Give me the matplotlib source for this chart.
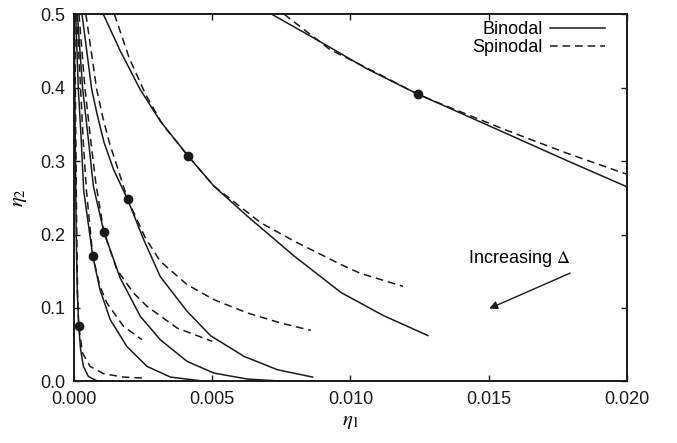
import numpy as np
import matplotlib
matplotlib.use("Agg")
import matplotlib.pyplot as plt

plt.rcParams['font.family'] = ['Liberation Sans', 'DejaVu Sans']
plt.rcParams['mathtext.fontset'] = 'stix'

# binodal (solid) and spinodal (dashed) curves
binA_x = [0.00715, 0.00877, 0.01058, 0.01244, 0.01323, 0.01564, 0.01781, 0.0200]
binA_y = [0.500, 0.4655, 0.426, 0.391, 0.378, 0.3375, 0.301, 0.265]
spinA_x = [0.0076, 0.00925, 0.01058, 0.01244, 0.01323, 0.01564, 0.01781, 0.0200]
spinA_y = [0.500, 0.452, 0.427, 0.391, 0.3785, 0.342, 0.311, 0.282]

binB_x = [0.00106, 0.00166, 0.00239, 0.00312, 0.00413, 0.00506, 0.00627, 0.00797, 0.00966, 0.0112, 0.0128]
binB_y = [0.500, 0.451, 0.3977, 0.3545, 0.3068, 0.2659, 0.225, 0.1705, 0.121, 0.0895, 0.0625]
spinB_x = [0.00146, 0.0020, 0.0026, 0.0032, 0.00413, 0.00506, 0.00676, 0.00797, 0.00966, 0.01034, 0.0119]
spinB_y = [0.500, 0.44, 0.39, 0.35, 0.3068, 0.2659, 0.2159, 0.1909, 0.1591, 0.1474, 0.1294]

binC_x = [0.00029, 0.00064, 0.00085, 0.00109, 0.00143, 0.00194, 0.00252, 0.00312,
          0.00409, 0.00494, 0.00615, 0.00736, 0.00863]
binC_y = [0.500, 0.3977, 0.3614, 0.325, 0.2886, 0.2477, 0.1932, 0.1427,
          0.0955, 0.0623, 0.0341, 0.0159, 0.0059]
spinC_x = [0.00043, 0.00082, 0.00104, 0.00128, 0.0016, 0.00194, 0.00258, 0.00312,
           0.00409, 0.00506, 0.00627, 0.00748, 0.00857]
spinC_y = [0.500, 0.3977, 0.36, 0.325, 0.288, 0.2477, 0.1955, 0.1636,
           0.1318, 0.1114, 0.0932, 0.0795, 0.0695]

binD_x = [0.00012, 0.000315, 0.00052, 0.0007, 0.00108, 0.00167, 0.0024, 0.00312,
          0.00409, 0.00506, 0.00627, 0.00748]
binD_y = [0.500, 0.3977, 0.3295, 0.266, 0.2036, 0.1409, 0.0886, 0.0568,
          0.0273, 0.0114, 0.0032, 0.0005]
spinD_x = [0.00018, 0.0004, 0.0006, 0.00079, 0.00108, 0.00155, 0.00215, 0.00264, 0.00373, 0.0050]
spinD_y = [0.500, 0.3977, 0.33, 0.27, 0.2036, 0.1523, 0.1205, 0.1023, 0.0727, 0.0545]

binE_x = [0.00006, 0.000157, 0.00026, 0.00035, 0.00068, 0.00094, 0.00131, 0.00191,
          0.00264, 0.00349, 0.00458]
binE_y = [0.500, 0.3977, 0.33, 0.26, 0.1705, 0.125, 0.0841, 0.0477,
          0.0205, 0.0059, 0.0009]
spinE_x = [0.0001, 0.00024, 0.00033, 0.00045, 0.00068, 0.00094, 0.00119, 0.00179, 0.00246]
spinE_y = [0.500, 0.3977, 0.33, 0.26, 0.1705, 0.1295, 0.1068, 0.075, 0.0568]

binF_x = [0.00001, 0.00004, 0.00008, 0.00012, 0.00017, 0.00024, 0.00034, 0.00052, 0.00082, 0.0011]
binF_y = [0.500, 0.35, 0.20, 0.12, 0.0759, 0.0432, 0.0205, 0.0068, 0.001, 0.0]
spinF_x = [0.00003, 0.00006, 0.0001, 0.00013, 0.00017, 0.00031, 0.00058, 0.00107, 0.00179, 0.00252]
spinF_y = [0.500, 0.35, 0.20, 0.12, 0.0759, 0.0386, 0.0205, 0.0105, 0.0059, 0.0045]

# critical points
crit_x = [0.00017, 0.00068, 0.00108, 0.00194, 0.00413, 0.01244]
crit_y = [0.0759, 0.1705, 0.2036, 0.2477, 0.3068, 0.391]

binodals = [(binA_x, binA_y), (binB_x, binB_y), (binC_x, binC_y),
            (binD_x, binD_y), (binE_x, binE_y), (binF_x, binF_y)]
spinodals = [(spinA_x, spinA_y), (spinB_x, spinB_y), (spinC_x, spinC_y),
             (spinD_x, spinD_y), (spinE_x, spinE_y), (spinF_x, spinF_y)]

fig = plt.figure(figsize=(6.77, 4.43), dpi=100)
ax = fig.add_axes([0.1093, 0.139, 0.8167, 0.829])

lw = 1.1
dash = (5.0, 3.2)
for i, (x, y) in enumerate(binodals):
    ax.plot(x, y, color='#1a1a1a', lw=lw, solid_joinstyle='round',
            label='Binodal' if i == 0 else None)
for i, (x, y) in enumerate(spinodals):
    ax.plot(x, y, color='#1a1a1a', lw=lw, dashes=dash,
            label='Spinodal' if i == 0 else None)
ax.plot(crit_x, crit_y, 'o', color='#1a1a1a', ms=6, zorder=5)

ax.annotate('', xy=(0.01493, 0.0977), xytext=(0.01804, 0.149),
            arrowprops=dict(arrowstyle='-|>', color='#1a1a1a', lw=1.0,
                            mutation_scale=12))
ax.text(0.0161, 0.168, r'Increasing $\mathit{\Delta}$', ha='center', va='center', fontsize=13)

ax.set_xlim(0, 0.020)
ax.set_ylim(0, 0.5)
xt = [0.0, 0.005, 0.010, 0.015, 0.020]
yt = [0.0, 0.1, 0.2, 0.3, 0.4, 0.5]
ax.set_xticks(xt)
ax.set_xticklabels([f"{v:.3f}" for v in xt])
ax.set_yticks(yt)
ax.set_yticklabels([f"{v:.1f}" for v in yt])
ax.tick_params(direction='in', length=4.5, width=1.0, top=True, right=True,
               labelsize=13, colors='#1a1a1a')
ax.tick_params(axis='x', pad=7)
ax.tick_params(axis='y', pad=6)
for s in ax.spines.values():
    s.set_linewidth(1.4)
    s.set_color('#1a1a1a')

ax.set_xlabel(r'$\eta_1$', fontsize=15, labelpad=3)
ax.set_ylabel(r'$\eta_2$', fontsize=15, labelpad=8)

ax.legend(loc='upper right', frameon=False, markerfirst=False, fontsize=13,
          handlelength=3.05, handletextpad=0.4, labelspacing=0.05,
          borderaxespad=0.0, bbox_to_anchor=(0.973, 1.0))

fig.savefig('out.png', dpi=100)
